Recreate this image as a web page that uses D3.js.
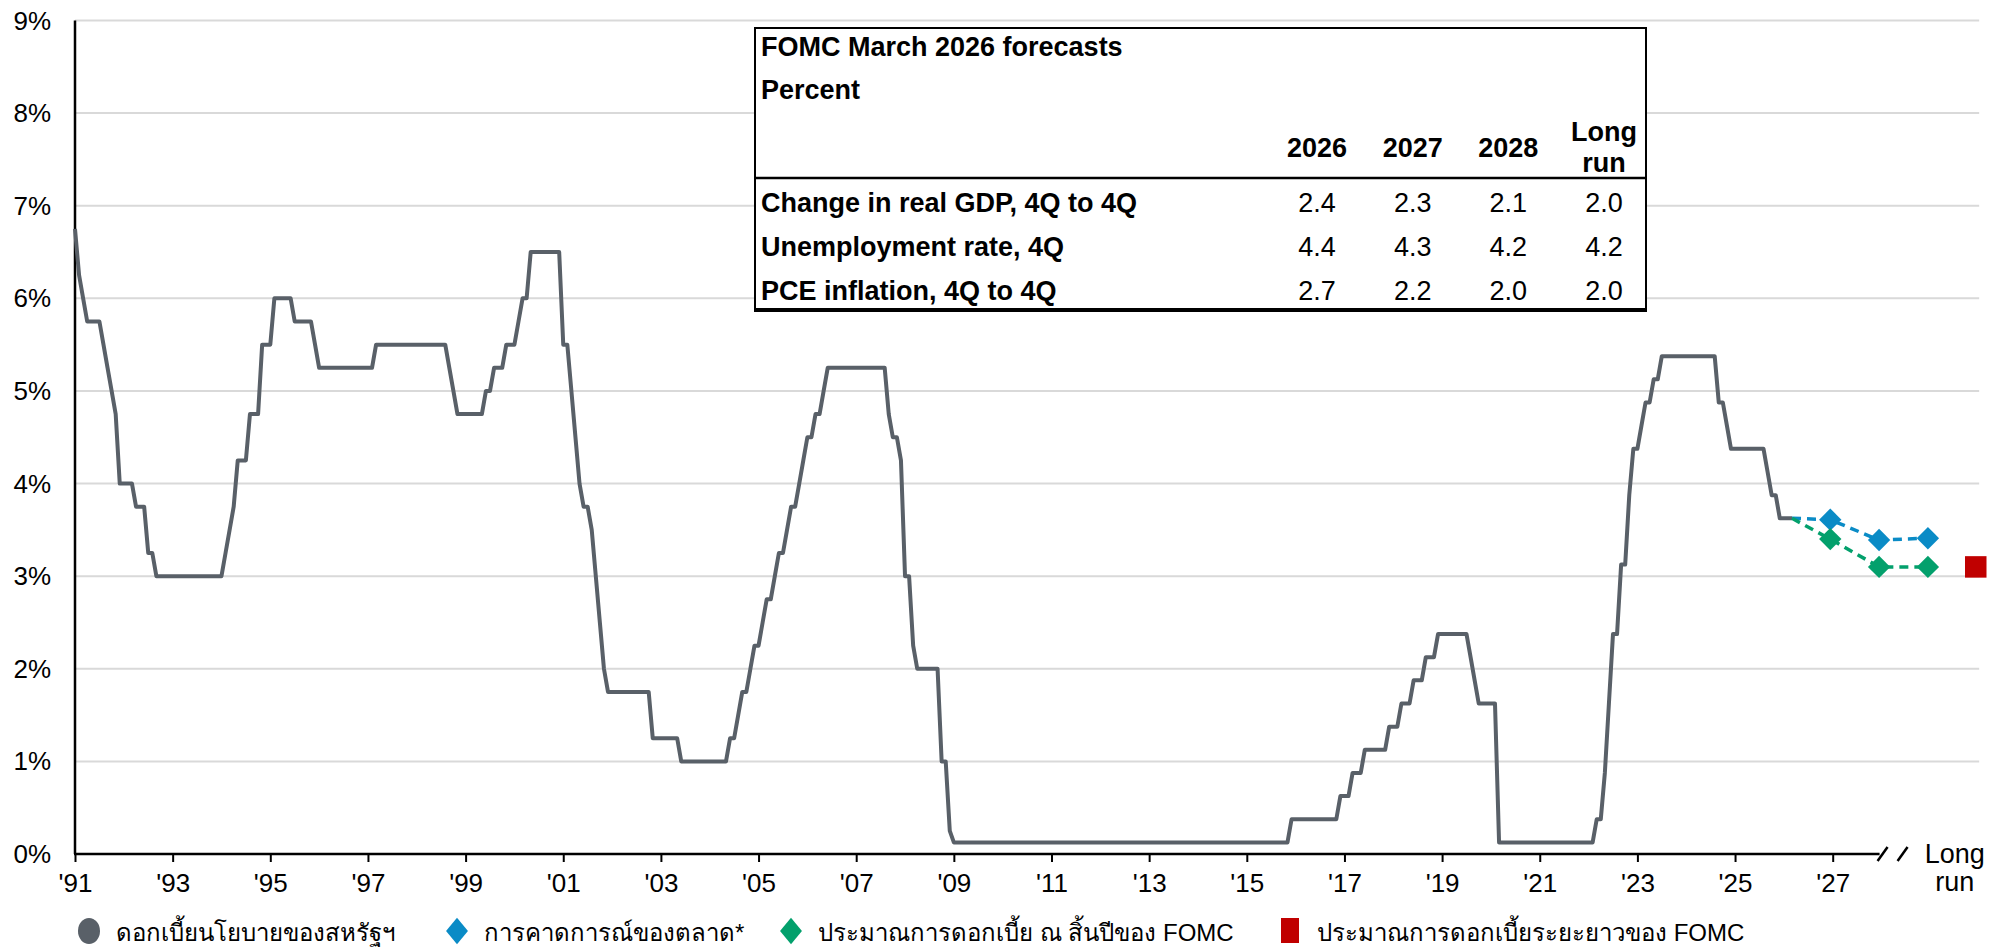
<!DOCTYPE html>
<html>
<head>
<meta charset="utf-8">
<script src="https://cdn.jsdelivr.net/npm/d3@7"></script>
<style>
  html, body { margin: 0; padding: 0; background: #fff; }
  svg text { font-family: "Liberation Sans", Arial, "Noto Sans", sans-serif; fill: #000; }
</style>
</head>
<body>
<svg id="chart" width="2000" height="948"></svg>
<script>
// Policy rate, monthly, month-end target (midpoint of the range after 2008).
// First value is Jan 1991, last is Mar 2026.
var startYear = 1991;
var policyRate = [
  /* 1991 */ 6.75, 6.25, 6.0, 5.75, 5.75, 5.75, 5.75, 5.5, 5.25, 5.0, 4.75, 4.0,
  /* 1992 */ 4.0, 4.0, 4.0, 3.75, 3.75, 3.75, 3.25, 3.25, 3.0, 3.0, 3.0, 3.0,
  /* 1993 */ 3.0, 3.0, 3.0, 3.0, 3.0, 3.0, 3.0, 3.0, 3.0, 3.0, 3.0, 3.0,
  /* 1994 */ 3.0, 3.25, 3.5, 3.75, 4.25, 4.25, 4.25, 4.75, 4.75, 4.75, 5.5, 5.5,
  /* 1995 */ 5.5, 6.0, 6.0, 6.0, 6.0, 6.0, 5.75, 5.75, 5.75, 5.75, 5.75, 5.5,
  /* 1996 */ 5.25, 5.25, 5.25, 5.25, 5.25, 5.25, 5.25, 5.25, 5.25, 5.25, 5.25, 5.25,
  /* 1997 */ 5.25, 5.25, 5.5, 5.5, 5.5, 5.5, 5.5, 5.5, 5.5, 5.5, 5.5, 5.5,
  /* 1998 */ 5.5, 5.5, 5.5, 5.5, 5.5, 5.5, 5.5, 5.5, 5.25, 5.0, 4.75, 4.75,
  /* 1999 */ 4.75, 4.75, 4.75, 4.75, 4.75, 5.0, 5.0, 5.25, 5.25, 5.25, 5.5, 5.5,
  /* 2000 */ 5.5, 5.75, 6.0, 6.0, 6.5, 6.5, 6.5, 6.5, 6.5, 6.5, 6.5, 6.5,
  /* 2001 */ 5.5, 5.5, 5.0, 4.5, 4.0, 3.75, 3.75, 3.5, 3.0, 2.5, 2.0, 1.75,
  /* 2002 */ 1.75, 1.75, 1.75, 1.75, 1.75, 1.75, 1.75, 1.75, 1.75, 1.75, 1.25, 1.25,
  /* 2003 */ 1.25, 1.25, 1.25, 1.25, 1.25, 1.0, 1.0, 1.0, 1.0, 1.0, 1.0, 1.0,
  /* 2004 */ 1.0, 1.0, 1.0, 1.0, 1.0, 1.25, 1.25, 1.5, 1.75, 1.75, 2.0, 2.25,
  /* 2005 */ 2.25, 2.5, 2.75, 2.75, 3.0, 3.25, 3.25, 3.5, 3.75, 3.75, 4.0, 4.25,
  /* 2006 */ 4.5, 4.5, 4.75, 4.75, 5.0, 5.25, 5.25, 5.25, 5.25, 5.25, 5.25, 5.25,
  /* 2007 */ 5.25, 5.25, 5.25, 5.25, 5.25, 5.25, 5.25, 5.25, 4.75, 4.5, 4.5, 4.25,
  /* 2008 */ 3.0, 3.0, 2.25, 2.0, 2.0, 2.0, 2.0, 2.0, 2.0, 1.0, 1.0, 0.25,
  /* 2009 */ 0.125, 0.125, 0.125, 0.125, 0.125, 0.125, 0.125, 0.125, 0.125, 0.125, 0.125, 0.125,
  /* 2010 */ 0.125, 0.125, 0.125, 0.125, 0.125, 0.125, 0.125, 0.125, 0.125, 0.125, 0.125, 0.125,
  /* 2011 */ 0.125, 0.125, 0.125, 0.125, 0.125, 0.125, 0.125, 0.125, 0.125, 0.125, 0.125, 0.125,
  /* 2012 */ 0.125, 0.125, 0.125, 0.125, 0.125, 0.125, 0.125, 0.125, 0.125, 0.125, 0.125, 0.125,
  /* 2013 */ 0.125, 0.125, 0.125, 0.125, 0.125, 0.125, 0.125, 0.125, 0.125, 0.125, 0.125, 0.125,
  /* 2014 */ 0.125, 0.125, 0.125, 0.125, 0.125, 0.125, 0.125, 0.125, 0.125, 0.125, 0.125, 0.125,
  /* 2015 */ 0.125, 0.125, 0.125, 0.125, 0.125, 0.125, 0.125, 0.125, 0.125, 0.125, 0.125, 0.375,
  /* 2016 */ 0.375, 0.375, 0.375, 0.375, 0.375, 0.375, 0.375, 0.375, 0.375, 0.375, 0.375, 0.625,
  /* 2017 */ 0.625, 0.625, 0.875, 0.875, 0.875, 1.125, 1.125, 1.125, 1.125, 1.125, 1.125, 1.375,
  /* 2018 */ 1.375, 1.375, 1.625, 1.625, 1.625, 1.875, 1.875, 1.875, 2.125, 2.125, 2.125, 2.375,
  /* 2019 */ 2.375, 2.375, 2.375, 2.375, 2.375, 2.375, 2.375, 2.125, 1.875, 1.625, 1.625, 1.625,
  /* 2020 */ 1.625, 1.625, 0.125, 0.125, 0.125, 0.125, 0.125, 0.125, 0.125, 0.125, 0.125, 0.125,
  /* 2021 */ 0.125, 0.125, 0.125, 0.125, 0.125, 0.125, 0.125, 0.125, 0.125, 0.125, 0.125, 0.125,
  /* 2022 */ 0.125, 0.125, 0.375, 0.375, 0.875, 1.625, 2.375, 2.375, 3.125, 3.125, 3.875, 4.375,
  /* 2023 */ 4.375, 4.625, 4.875, 4.875, 5.125, 5.125, 5.375, 5.375, 5.375, 5.375, 5.375, 5.375,
  /* 2024 */ 5.375, 5.375, 5.375, 5.375, 5.375, 5.375, 5.375, 5.375, 4.875, 4.875, 4.625, 4.375,
  /* 2025 */ 4.375, 4.375, 4.375, 4.375, 4.375, 4.375, 4.375, 4.375, 4.125, 3.875, 3.875, 3.625,
  /* 2026 */ 3.625, 3.625, 3.625
];

// Year-end projections (end of 2026, 2027, 2028) and the long run.
var projDates = [2026.95, 2027.95, 2028.95];
var marketExpect = [3.61, 3.39, 3.41];
var fomcMedian = [3.40, 3.10, 3.10];
var longRunDate = 2029.93;
var longRunRate = 3.10;

var yTicks = [0, 1, 2, 3, 4, 5, 6, 7, 8, 9];
var xTickYears = [1991, 1993, 1995, 1997, 1999, 2001, 2003, 2005, 2007, 2009,
                  2011, 2013, 2015, 2017, 2019, 2021, 2023, 2025, 2027];

// Forecast table.
var tableTitle = 'FOMC March 2026 forecasts';
var tableUnit = 'Percent';
var tableCols = ['2026', '2027', '2028', 'Long run'];
var tableRowLabels = ['Change in real GDP, 4Q to 4Q', 'Unemployment rate, 4Q', 'PCE inflation, 4Q to 4Q'];
var gdpRow = [2.4, 2.3, 2.1, 2.0];
var unempRow = [4.4, 4.3, 4.2, 4.2];
var pceRow = [2.7, 2.2, 2.0, 2.0];

var legendLabels = [
  'ดอกเบี้ยนโยบายของสหรัฐฯ',
  'การคาดการณ์ของตลาด*',
  'ประมาณการดอกเบี้ย ณ สิ้นปีของ FOMC',
  'ประมาณการดอกเบี้ยระยะยาวของ FOMC'
];

var GREY = '#596068', BLUE = '#0a8bc6', GREEN = '#03a06c', RED = '#c00000';

var svg = d3.select('#chart');

var x = d3.scaleLinear().domain([1991, 2027]).range([75, 1832.7]);
var y = d3.scaleLinear().domain([0, 9]).range([854, 20.5]);
var axisEnd = x(2027.96);
var gridEnd = x(2030.0);

// Gridlines
svg.append('g').selectAll('line')
  .data(yTicks.filter(function(d) { return d > 0; }))
  .enter().append('line')
  .attr('x1', x(1991)).attr('x2', gridEnd)
  .attr('y1', function(d) { return y(d); })
  .attr('y2', function(d) { return y(d); })
  .attr('stroke', '#d9d9d9').attr('stroke-width', 2);

// Y tick labels
svg.append('g').selectAll('text')
  .data(yTicks)
  .enter().append('text')
  .attr('x', 51)
  .attr('y', function(d) { return y(d) + 9; })
  .attr('text-anchor', 'end')
  .style('font-size', '26px')
  .text(function(d) { return d + '%'; });

// X axis
var xAxis = d3.axisBottom(x)
  .tickValues(xTickYears)
  .tickSize(8)
  .tickFormat(function(d) { return "'" + String(d).slice(2); });

var gx = svg.append('g').attr('transform', 'translate(0,' + y(0) + ')').call(xAxis);
gx.select('.domain').remove();
gx.selectAll('.tick line').attr('stroke', '#000').attr('stroke-width', 2);
gx.selectAll('.tick text')
  .attr('y', 20).attr('dy', '0.71em')
  .style('font-size', '26px')
  .style('font-family', '"Liberation Sans", Arial, sans-serif');

svg.append('line')
  .attr('x1', x(1991) - 1).attr('x2', axisEnd)
  .attr('y1', y(0)).attr('y2', y(0))
  .attr('stroke', '#000').attr('stroke-width', 2.5);

// Axis break marks
[axisEnd + 3, axisEnd + 23].forEach(function(bx) {
  svg.append('line')
    .attr('x1', bx - 5).attr('y1', y(0) + 7)
    .attr('x2', bx + 5).attr('y2', y(0) - 7)
    .attr('stroke', '#000').attr('stroke-width', 2.5);
});

var longRunLabel = svg.append('text')
  .attr('x', x(2029.5))
  .attr('text-anchor', 'middle')
  .style('font-size', '27px');
longRunLabel.append('tspan').attr('x', x(2029.5)).attr('y', 863).text('Long');
longRunLabel.append('tspan').attr('x', x(2029.5)).attr('y', 891).text('run');

// Y axis line
svg.append('line')
  .attr('x1', x(1991)).attr('x2', x(1991))
  .attr('y1', y(9)).attr('y2', y(0))
  .attr('stroke', '#000').attr('stroke-width', 2.5);

// Policy rate line
var rateLine = d3.line()
  .x(function(d, i) { return x(startYear + i / 12); })
  .y(function(d) { return y(d); });

svg.append('path')
  .datum(policyRate)
  .attr('d', rateLine)
  .attr('fill', 'none')
  .attr('stroke', GREY)
  .attr('stroke-width', 4)
  .attr('stroke-linejoin', 'round');

// Projection paths start at the last actual point
var lastDate = startYear + (policyRate.length - 1) / 12;
var lastRate = policyRate[policyRate.length - 1];

function projPoints(vals) {
  var pts = [[lastDate, lastRate]];
  vals.forEach(function(v, i) { pts.push([projDates[i], v]); });
  return pts;
}

var projLine = d3.line()
  .x(function(d) { return x(d[0]); })
  .y(function(d) { return y(d[1]); });

[[marketExpect, BLUE], [fomcMedian, GREEN]].forEach(function(s) {
  svg.append('path')
    .datum(projPoints(s[0]))
    .attr('d', projLine)
    .attr('fill', 'none')
    .attr('stroke', s[1])
    .attr('stroke-width', 3.5)
    .attr('stroke-dasharray', '9,6');
});

var diamond = d3.symbol().type(d3.symbolSquare).size(250);

[[marketExpect, BLUE], [fomcMedian, GREEN]].forEach(function(s) {
  svg.append('g').selectAll('path')
    .data(s[0])
    .enter().append('path')
    .attr('d', diamond)
    .attr('transform', function(d, i) {
      return 'translate(' + x(projDates[i]) + ',' + y(d) + ') rotate(45)';
    })
    .attr('fill', s[1]);
});

svg.append('path')
  .attr('d', d3.symbol().type(d3.symbolSquare).size(462))
  .attr('transform', 'translate(' + x(longRunDate) + ',' + y(longRunRate) + ')')
  .attr('fill', RED);

// Forecast table
var tbl = svg.append('g');
var tLeft = 755, tRight = 1646, tTop = 28, tBottom = 310, tSep = 178;
var tFont = '27px';

tbl.append('rect')
  .attr('x', tLeft).attr('y', tTop)
  .attr('width', tRight - tLeft).attr('height', tBottom - tTop)
  .attr('fill', '#fff').attr('stroke', '#000').attr('stroke-width', 2);
tbl.append('line')
  .attr('x1', tLeft).attr('x2', tRight).attr('y1', tSep).attr('y2', tSep)
  .attr('stroke', '#000').attr('stroke-width', 2.5);
tbl.append('line')
  .attr('x1', tLeft - 1).attr('x2', tRight + 1).attr('y1', tBottom).attr('y2', tBottom)
  .attr('stroke', '#000').attr('stroke-width', 4);

var colX = d3.scalePoint().domain(tableCols).range([1317, 1604]);

tbl.append('text').attr('x', tLeft + 6).attr('y', 56)
  .style('font-size', tFont).style('font-weight', 'bold').text(tableTitle);
tbl.append('text').attr('x', tLeft + 6).attr('y', 99)
  .style('font-size', tFont).style('font-weight', 'bold').text(tableUnit);

tableCols.forEach(function(c) {
  var parts = c.split(' ');
  var t = tbl.append('text')
    .attr('text-anchor', 'middle')
    .style('font-size', tFont).style('font-weight', 'bold');
  if (parts.length === 1) {
    t.attr('x', colX(c)).attr('y', 157).text(c);
  } else {
    t.append('tspan').attr('x', colX(c)).attr('y', 141).text(parts[0]);
    t.append('tspan').attr('x', colX(c)).attr('y', 172).text(parts[1]);
  }
});

var rowYs = [212, 256, 300];
[gdpRow, unempRow, pceRow].forEach(function(row, r) {
  tbl.append('text').attr('x', tLeft + 6).attr('y', rowYs[r])
    .style('font-size', tFont).style('font-weight', 'bold')
    .text(tableRowLabels[r]);
  tbl.append('g').selectAll('text')
    .data(row)
    .enter().append('text')
    .attr('x', function(d, i) { return colX(tableCols[i]); })
    .attr('y', rowYs[r])
    .attr('text-anchor', 'middle')
    .style('font-size', tFont)
    .text(function(d) { return d.toFixed(1); });
});

// Legend
var legY = 931;
var legX = [89, 457, 791, 1290];
var leg = svg.append('g');

leg.append('ellipse').attr('cx', legX[0]).attr('cy', legY).attr('rx', 11).attr('ry', 13).attr('fill', GREY);
leg.append('path').attr('d', d3.symbol().type(d3.symbolSquare).size(240))
  .attr('transform', 'translate(' + legX[1] + ',' + legY + ') scale(1,1.2) rotate(45)').attr('fill', BLUE);
leg.append('path').attr('d', d3.symbol().type(d3.symbolSquare).size(240))
  .attr('transform', 'translate(' + legX[2] + ',' + legY + ') scale(1,1.2) rotate(45)').attr('fill', GREEN);
leg.append('rect').attr('x', legX[3] - 9).attr('y', legY - 13).attr('width', 18).attr('height', 25).attr('fill', RED);

leg.selectAll('text.lab')
  .data(legendLabels)
  .enter().append('text')
  .attr('class', 'lab')
  .attr('x', function(d, i) { return legX[i] + 27; })
  .attr('y', legY + 10)
  .style('font-size', '24px')
  .text(function(d) { return d; });
</script>
</body>
</html>
